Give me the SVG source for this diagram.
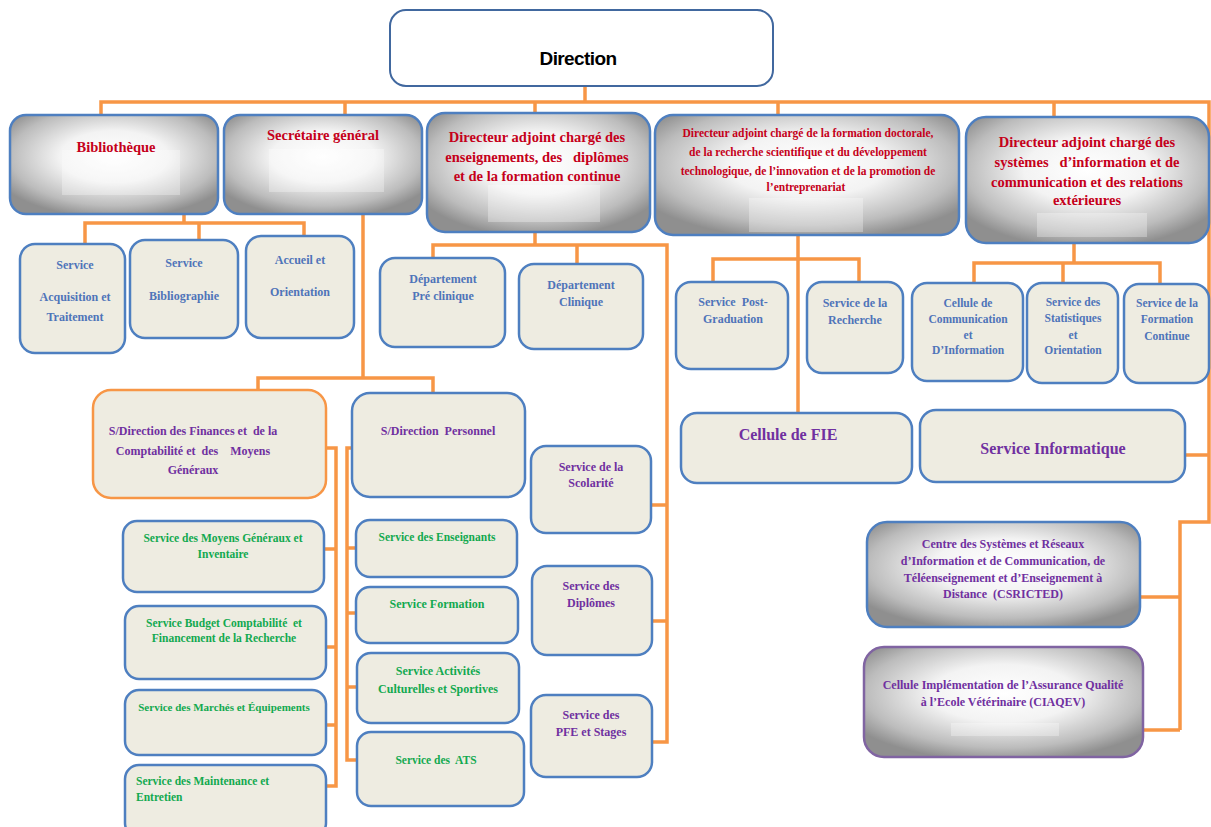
<svg xmlns="http://www.w3.org/2000/svg" width="1211" height="827" viewBox="0 0 1211 827">
  <defs>
    <!-- grey-to-white shading used by the upper management boxes -->
    <radialGradient id="shade" cx="0.5" cy="0.42" r="0.62">
      <stop offset="0" stop-color="#ffffff"/>
      <stop offset="0.42" stop-color="#f3f3f3"/>
      <stop offset="0.8" stop-color="#bcbcbc"/>
      <stop offset="1" stop-color="#8f8f8f"/>
    </radialGradient>
  </defs>
  <style>
    .box { fill: #EEECE1; stroke: #4E7FC0; stroke-width: 2.5; }
    .shade { fill: url(#shade); stroke: #4E7FC0; stroke-width: 2.5; }
    .pane { fill: #ffffff; opacity: 0.3; }
    .wire { fill: none; stroke: #F79646; stroke-width: 3.5; stroke-linejoin: miter; }
    text { font-family: "Liberation Serif", "Times New Roman", serif; font-weight: bold; text-anchor: middle; }
    .red { fill: #C5001A; font-size: 14.5px; }
    .red-s { fill: #C5001A; font-size: 11.5px; }
    .blue { fill: #4F74B9; font-size: 12px; }
    .blue-s { fill: #4F74B9; font-size: 11.5px; }
    .purple { fill: #7030A0; font-size: 12px; }
    .purple-l { fill: #7030A0; font-size: 16px; }
    .green { fill: #12A94F; font-size: 11.5px; }
    .green-l { fill: #12A94F; font-size: 12px; }
  </style>

  <rect width="1211" height="827" fill="#ffffff"/>

  <!-- connectors -->
  <g id="connectors" class="wire">
    <path d="M585,86 V102"/>
    <path d="M101,115 V102 H1209 V522 H1180 V730"/>
    <path d="M345,102 V115 M535,102 V113 M778,102 V115 M1054,102 V117"/>
    <!-- Bibliothèque -->
    <path d="M184,214 V223 M85,244 V223 H304 V236 M199,223 V240"/>
    <!-- Secrétaire général -->
    <path d="M363,214 V378 M258,390 V378 H433 V393"/>
    <path d="M326,448 H336 V786 H326 M324,549 H336 M326,647 H336 M326,725 H336"/>
    <path d="M352,448 H347 V760 H357 M347,548 H356 M347,613 H356 M347,687 H357"/>
    <!-- enseignements -->
    <path d="M535,232 V245 M433,258 V245 H667 V742 H652 M577,245 V264 M651,505 H667 M652,621 H667"/>
    <!-- formation doctorale -->
    <path d="M798,235 V413 M713,282 V259 H859 V282"/>
    <!-- systèmes d'information -->
    <path d="M1074,243 V263 M974,283 V263 H1160 V284 M1063,263 V283"/>
    <path d="M1185,455 H1209 M1140,597 H1180 M1143,730 H1180"/>
  </g>

  <!-- top -->
  <g id="direction">
    <rect x="390" y="10" width="383" height="76" rx="16" fill="#ffffff" stroke="#41689F" stroke-width="2"/>
    <text x="578" y="65" style="font-family:'Liberation Sans',Arial,sans-serif;font-size:19px;letter-spacing:-0.6px;fill:#000">Direction</text>
  </g>

  <!-- second level -->
  <g id="bibliotheque">
    <rect class="shade" x="10" y="115" width="208" height="99" rx="16"/>
    <rect class="pane" x="62" y="150" width="118" height="45"/>
    <text class="red" x="116" y="152">Bibliothèque</text>
  </g>
  <g id="secretaire-general">
    <rect class="shade" x="224" y="115" width="198" height="99" rx="16"/>
    <rect class="pane" x="269" y="149" width="115" height="43"/>
    <text class="red" x="323" y="140">Secrétaire général</text>
  </g>
  <g id="da-enseignements">
    <rect class="shade" x="427" y="113" width="223" height="119" rx="18"/>
    <rect class="pane" x="488" y="185" width="112" height="37"/>
    <text class="red" x="537" y="142" xml:space="preserve">Directeur adjoint chargé des</text>
    <text class="red" x="537" y="162" xml:space="preserve">enseignements, des   diplômes</text>
    <text class="red" x="537" y="181">et de la formation continue</text>
  </g>
  <g id="da-formation-doctorale">
    <rect class="shade" x="655" y="115" width="304" height="120" rx="18"/>
    <rect class="pane" x="749" y="198" width="114" height="34"/>
    <text class="red-s" x="808" y="137">Directeur adjoint chargé de la formation doctorale,</text>
    <text class="red-s" x="808" y="156">de la recherche scientifique et du développement</text>
    <text class="red-s" x="808" y="175">technologique, de l’innovation et de la promotion de</text>
    <text class="red-s" x="806" y="191">l’entreprenariat</text>
  </g>
  <g id="da-systemes-information">
    <rect class="shade" x="966" y="117" width="243" height="126" rx="20"/>
    <rect class="pane" x="1037" y="213" width="110" height="24"/>
    <text class="red" x="1087" y="147">Directeur adjoint chargé des</text>
    <text class="red" x="1087" y="167" xml:space="preserve">systèmes   d’information et de</text>
    <text class="red" x="1087" y="187">communication et des relations</text>
    <text class="red" x="1087" y="205">extérieures</text>
  </g>

  <!-- Bibliothèque services -->
  <g id="service-acquisition">
    <rect class="box" x="20" y="244" width="105" height="109" rx="15"/>
    <text class="blue" x="75" y="269">Service</text>
    <text class="blue" x="75" y="301">Acquisition et</text>
    <text class="blue" x="75" y="321">Traitement</text>
  </g>
  <g id="service-bibliographie">
    <rect class="box" x="130" y="240" width="108" height="98" rx="15"/>
    <text class="blue" x="184" y="267">Service</text>
    <text class="blue" x="184" y="300">Bibliographie</text>
  </g>
  <g id="accueil-orientation">
    <rect class="box" x="246" y="236" width="108" height="102" rx="15"/>
    <text class="blue" x="300" y="264">Accueil et</text>
    <text class="blue" x="300" y="296">Orientation</text>
  </g>

  <!-- départements -->
  <g id="departement-preclinique">
    <rect class="box" x="380" y="258" width="125" height="89" rx="15"/>
    <text class="blue" x="443" y="283">Département</text>
    <text class="blue" x="443" y="300">Pré clinique</text>
  </g>
  <g id="departement-clinique">
    <rect class="box" x="519" y="264" width="124" height="85" rx="15"/>
    <text class="blue" x="581" y="289">Département</text>
    <text class="blue" x="581" y="306">Clinique</text>
  </g>

  <!-- formation doctorale services -->
  <g id="service-post-graduation">
    <rect class="box" x="676" y="282" width="112" height="87" rx="15"/>
    <text class="blue" x="733" y="306" xml:space="preserve">Service  Post-</text>
    <text class="blue" x="733" y="323">Graduation</text>
  </g>
  <g id="service-recherche">
    <rect class="box" x="807" y="282" width="96" height="91" rx="15"/>
    <text class="blue" x="855" y="307">Service de la</text>
    <text class="blue" x="855" y="324">Recherche</text>
  </g>
  <g id="cellule-fie">
    <rect class="box" x="681" y="413" width="231" height="70" rx="16"/>
    <text class="purple-l" x="788" y="440">Cellule de FIE</text>
  </g>

  <!-- systèmes d'information services -->
  <g id="cellule-communication">
    <rect class="box" x="912" y="283" width="111" height="98" rx="15"/>
    <text class="blue-s" x="968" y="307">Cellule de</text>
    <text class="blue-s" x="968" y="323">Communication</text>
    <text class="blue-s" x="968" y="339">et</text>
    <text class="blue-s" x="968" y="354">D’Information</text>
  </g>
  <g id="service-statistiques">
    <rect class="box" x="1027" y="283" width="91" height="100" rx="15"/>
    <text class="blue-s" x="1073" y="306">Service des</text>
    <text class="blue-s" x="1073" y="322">Statistiques</text>
    <text class="blue-s" x="1073" y="339">et</text>
    <text class="blue-s" x="1073" y="354">Orientation</text>
  </g>
  <g id="service-formation-continue">
    <rect class="box" x="1124" y="284" width="85" height="99" rx="15"/>
    <text class="blue-s" x="1167" y="307">Service de la</text>
    <text class="blue-s" x="1167" y="323">Formation</text>
    <text class="blue-s" x="1167" y="340">Continue</text>
  </g>
  <g id="service-informatique">
    <rect class="box" x="920" y="410" width="265" height="72" rx="16"/>
    <text class="purple-l" x="1053" y="454">Service Informatique</text>
  </g>
  <g id="csricted">
    <rect class="shade" x="867" y="522" width="273" height="105" rx="20"/>
    <text class="purple" x="1003" y="548">Centre des Systèmes et Réseaux</text>
    <text class="purple" x="1003" y="565">d’Information et de Communication, de</text>
    <text class="purple" x="1003" y="582">Téléenseignement et d’Enseignement à</text>
    <text class="purple" x="1003" y="598" xml:space="preserve">Distance  (CSRICTED)</text>
  </g>
  <g id="ciaqev">
    <rect class="shade" x="864" y="647" width="279" height="110" rx="20" style="stroke:#8064A2"/>
    <rect class="pane" x="951" y="723" width="108" height="13"/>
    <text class="purple" x="1003" y="689">Cellule Implémentation de l’Assurance Qualité</text>
    <text class="purple" x="1003" y="706">à l’Ecole Vétérinaire (CIAQEV)</text>
  </g>

  <!-- sous-directions -->
  <g id="sd-finances">
    <rect x="93" y="390" width="233" height="108" rx="18" fill="#EEECE1" stroke="#F79646" stroke-width="2.5"/>
    <text class="purple" x="193" y="435" xml:space="preserve">S/Direction des Finances et  de la</text>
    <text class="purple" x="193" y="455" xml:space="preserve">Comptabilité et  des    Moyens</text>
    <text class="purple" x="193" y="474">Généraux</text>
  </g>
  <g id="sd-personnel">
    <rect class="box" x="352" y="393" width="173" height="104" rx="18"/>
    <text class="purple" x="438" y="435" xml:space="preserve">S/Direction  Personnel</text>
  </g>

  <!-- finances services -->
  <g id="service-moyens-generaux">
    <rect class="box" x="123" y="521" width="201" height="71" rx="14"/>
    <text class="green" x="223" y="542">Service des Moyens Généraux et</text>
    <text class="green" x="223" y="558">Inventaire</text>
  </g>
  <g id="service-budget">
    <rect class="box" x="125" y="606" width="201" height="73" rx="14"/>
    <text class="green" x="224" y="627" xml:space="preserve">Service Budget Comptabilité  et</text>
    <text class="green" x="224" y="642">Financement de la Recherche</text>
  </g>
  <g id="service-marches">
    <rect class="box" x="125" y="690" width="201" height="65" rx="14"/>
    <text class="green" x="224" y="711" style="font-size:11px">Service des Marchés et Équipements</text>
  </g>
  <g id="service-maintenance">
    <rect class="box" x="125" y="765" width="201" height="72" rx="14"/>
    <text class="green" x="136" y="785" style="text-anchor:start">Service des Maintenance et</text>
    <text class="green" x="136" y="801" style="text-anchor:start">Entretien</text>
  </g>

  <!-- personnel services -->
  <g id="service-enseignants">
    <rect class="box" x="356" y="520" width="161" height="57" rx="14"/>
    <text class="green" x="437" y="541">Service des Enseignants</text>
  </g>
  <g id="service-formation">
    <rect class="box" x="356" y="587" width="162" height="56" rx="14"/>
    <text class="green-l" x="437" y="608">Service Formation</text>
  </g>
  <g id="service-activites">
    <rect class="box" x="357" y="653" width="162" height="70" rx="14"/>
    <text class="green-l" x="438" y="675">Service Activités</text>
    <text class="green-l" x="438" y="693">Culturelles et Sportives</text>
  </g>
  <g id="service-ats">
    <rect class="box" x="357" y="732" width="167" height="74" rx="14"/>
    <text class="green" x="436" y="764" xml:space="preserve">Service des  ATS</text>
  </g>

  <!-- enseignements services -->
  <g id="service-scolarite">
    <rect class="box" x="531" y="446" width="120" height="87" rx="15"/>
    <text class="purple" x="591" y="471">Service de la</text>
    <text class="purple" x="591" y="487">Scolarité</text>
  </g>
  <g id="service-diplomes">
    <rect class="box" x="532" y="566" width="120" height="89" rx="15"/>
    <text class="purple" x="591" y="590">Service des</text>
    <text class="purple" x="591" y="607">Diplômes</text>
  </g>
  <g id="service-pfe">
    <rect class="box" x="531" y="695" width="121" height="82" rx="15"/>
    <text class="purple" x="591" y="719">Service des</text>
    <text class="purple" x="591" y="736">PFE et Stages</text>
  </g>
</svg>
